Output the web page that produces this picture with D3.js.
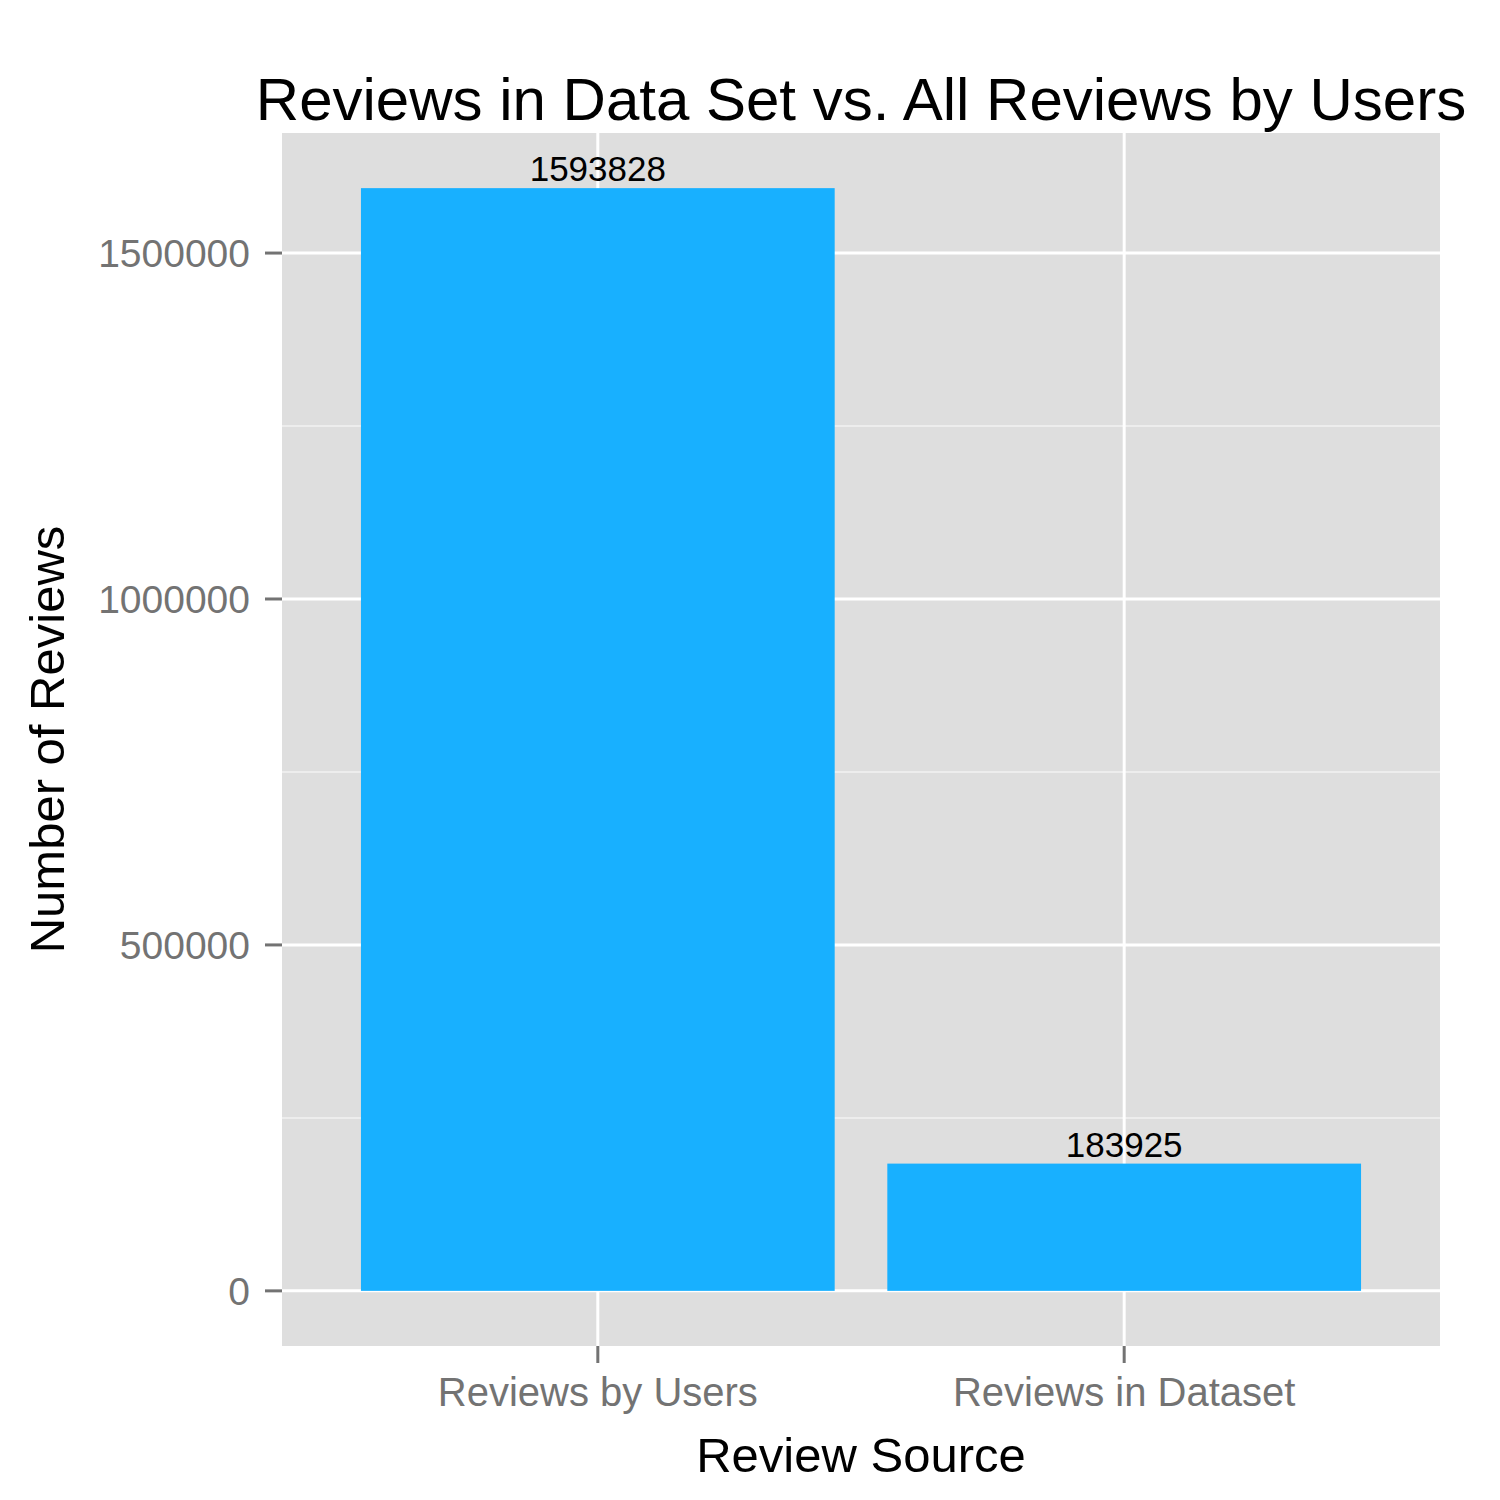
<!DOCTYPE html>
<html><head><meta charset="utf-8">
<script src="https://cdn.jsdelivr.net/npm/d3@7"></script>
<style>body{margin:0;background:#fff}</style>
</head><body>
<script>
const categories = ["Reviews by Users", "Reviews in Dataset"];
const values = [1593828, 183925];
const yTicks = [0, 500000, 1000000, 1500000];
const yMinor = [250000, 750000, 1250000];
const title = "Reviews in Data Set vs. All Reviews by Users";
const xTitle = "Review Source";
const yTitle = "Number of Reviews";

const W = 1500, H = 1500;
const panel = {x0: 282, x1: 1440, y0: 133, y1: 1346};
const font = "'Liberation Sans', Arial, Helvetica, sans-serif";

const svg = d3.select("body").append("svg").attr("width", W).attr("height", H)
  .style("font-family", font);
svg.append("rect").attr("width", W).attr("height", H).attr("fill", "#fff");

const maxV = d3.max(values);
const pad = maxV * 0.05;
const y = d3.scaleLinear().domain([-pad, maxV + pad]).range([panel.y1, panel.y0]);
// ggplot discrete scale: 0.6 units expansion each side; one unit per category
const x = d3.scalePoint().domain(categories)
  .range([panel.x0, panel.x1]).padding(0.6 / 1 * 2 / 2 * 1.0 / 0.5);
const unit = (panel.x1 - panel.x0) / (categories.length - 1 + 1.2);
x.range([panel.x0 + unit * 0.6, panel.x1 - unit * 0.6]).padding(0);
const xc = d => x(d);

svg.append("rect").attr("x", panel.x0).attr("y", panel.y0)
  .attr("width", panel.x1 - panel.x0).attr("height", panel.y1 - panel.y0).attr("fill", "#DEDEDE");

const g = svg.append("g");
g.selectAll(".minor").data(yMinor).enter().append("line")
  .attr("x1", panel.x0).attr("x2", panel.x1).attr("y1", d => y(d)).attr("y2", d => y(d))
  .attr("stroke", "#F2F2F2").attr("stroke-width", 1.5);
g.selectAll(".major").data(yTicks).enter().append("line")
  .attr("x1", panel.x0).attr("x2", panel.x1).attr("y1", d => y(d)).attr("y2", d => y(d))
  .attr("stroke", "#fff").attr("stroke-width", 3);
g.selectAll(".vmajor").data(categories).enter().append("line")
  .attr("x1", d => xc(d)).attr("x2", d => xc(d)).attr("y1", panel.y0).attr("y2", panel.y1)
  .attr("stroke", "#fff").attr("stroke-width", 3);

const bw = unit * 0.9;
g.selectAll(".bar").data(values).enter().append("rect")
  .attr("x", (d, i) => xc(categories[i]) - bw / 2)
  .attr("width", bw)
  .attr("y", d => y(d))
  .attr("height", d => y(0) - y(d))
  .attr("fill", "#18B0FF");

g.selectAll(".lbl").data(values).enter().append("text")
  .attr("x", (d, i) => xc(categories[i]))
  .attr("y", d => y(d) - 7)
  .attr("text-anchor", "middle").attr("font-size", 35).attr("fill", "#000")
  .text(d => d);

// Y axis ticks
const yAxis = svg.append("g");
yAxis.selectAll("line").data(yTicks).enter().append("line")
  .attr("x1", panel.x0 - 17).attr("x2", panel.x0).attr("y1", d => y(d)).attr("y2", d => y(d))
  .attr("stroke", "#737373").attr("stroke-width", 3);
yAxis.selectAll("text").data(yTicks).enter().append("text")
  .attr("x", panel.x0 - 32).attr("y", d => y(d) + 14)
  .attr("text-anchor", "end").attr("font-size", 39).attr("fill", "#737373")
  .text(d => d);

// X axis ticks
const xAxis = svg.append("g");
xAxis.selectAll("line").data(categories).enter().append("line")
  .attr("x1", d => xc(d)).attr("x2", d => xc(d)).attr("y1", panel.y1).attr("y2", panel.y1 + 17)
  .attr("stroke", "#737373").attr("stroke-width", 3);
xAxis.selectAll("text").data(categories).enter().append("text")
  .attr("x", d => xc(d)).attr("y", 1406)
  .attr("text-anchor", "middle").attr("font-size", 40).attr("fill", "#737373")
  .text(d => d);

svg.append("text").attr("x", (panel.x0 + panel.x1) / 2).attr("y", 1472)
  .attr("text-anchor", "middle").attr("font-size", 49).attr("fill", "#000").text(xTitle);
svg.append("text").attr("transform", `translate(64,${(panel.y0 + panel.y1) / 2}) rotate(-90)`)
  .attr("text-anchor", "middle").attr("font-size", 49).attr("fill", "#000").text(yTitle);
svg.append("text").attr("x", (panel.x0 + panel.x1) / 2).attr("y", 120)
  .attr("text-anchor", "middle").attr("font-size", 60).attr("fill", "#000").text(title);
</script>
</body></html>
